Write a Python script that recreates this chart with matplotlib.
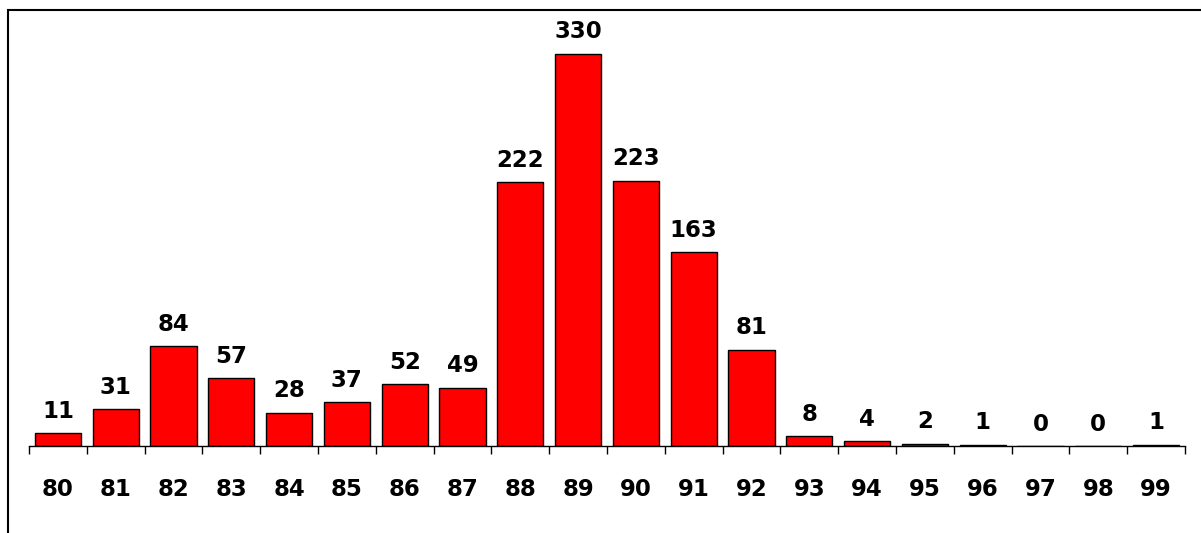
import numpy as np
import matplotlib
matplotlib.use("Agg")
import matplotlib.pyplot as plt
from matplotlib.patches import Rectangle

scores = ['80', '81', '82', '83', '84', '85', '86', '87', '88', '89',
          '90', '91', '92', '93', '94', '95', '96', '97', '98', '99']
counts = [11, 31, 84, 57, 28, 37, 52, 49, 222, 330,
          223, 163, 81, 8, 4, 2, 1, 0, 0, 1]

W, H = 1201, 533
fig = plt.figure(figsize=(W / 100, H / 100), dpi=100)
fig.patch.set_facecolor('white')

# axes: x from 29 to 1185 px, baseline at y=446 px
ax = fig.add_axes([29 / W, 1 - 446 / H, (1185 - 29) / W, (446 - 18) / H])
x = np.arange(len(scores))
ax.bar(x, counts, width=0.8, color='#ff0000', edgecolor='black', linewidth=1.0)
ax.set_xlim(-0.5, len(scores) - 0.5)
ax.set_ylim(0, 360)

lab_font = dict(fontsize=16.5, fontweight='bold', family='DejaVu Sans')

for xi, c in zip(x, counts):
    ax.annotate(str(c), (xi, c), xytext=(0, 7.5), textcoords='offset points',
                ha='center', va='bottom', **lab_font)

# category labels under the axis, ticks between categories
ax.set_xticks(np.arange(-0.5, len(scores), 1.0))
ax.set_xticklabels([])
ax.tick_params(axis='x', length=6, width=1, direction='out', color='black')
ax.set_xticks(x, minor=True)
ax.set_xticklabels(scores, minor=True, **lab_font)
ax.tick_params(axis='x', which='minor', length=0, pad=23)

ax.set_yticks([])
for s in ['top', 'right', 'left']:
    ax.spines[s].set_visible(False)
ax.spines['bottom'].set_linewidth(1.0)

# outer frame (top and left visible)
fig.patches.append(Rectangle((8 / W, -0.1), 1.2, 1 - 10 / H + 0.1,
                             transform=fig.transFigure, fill=False,
                             edgecolor='black', linewidth=1.5))

fig.savefig('out.png', dpi=100)
